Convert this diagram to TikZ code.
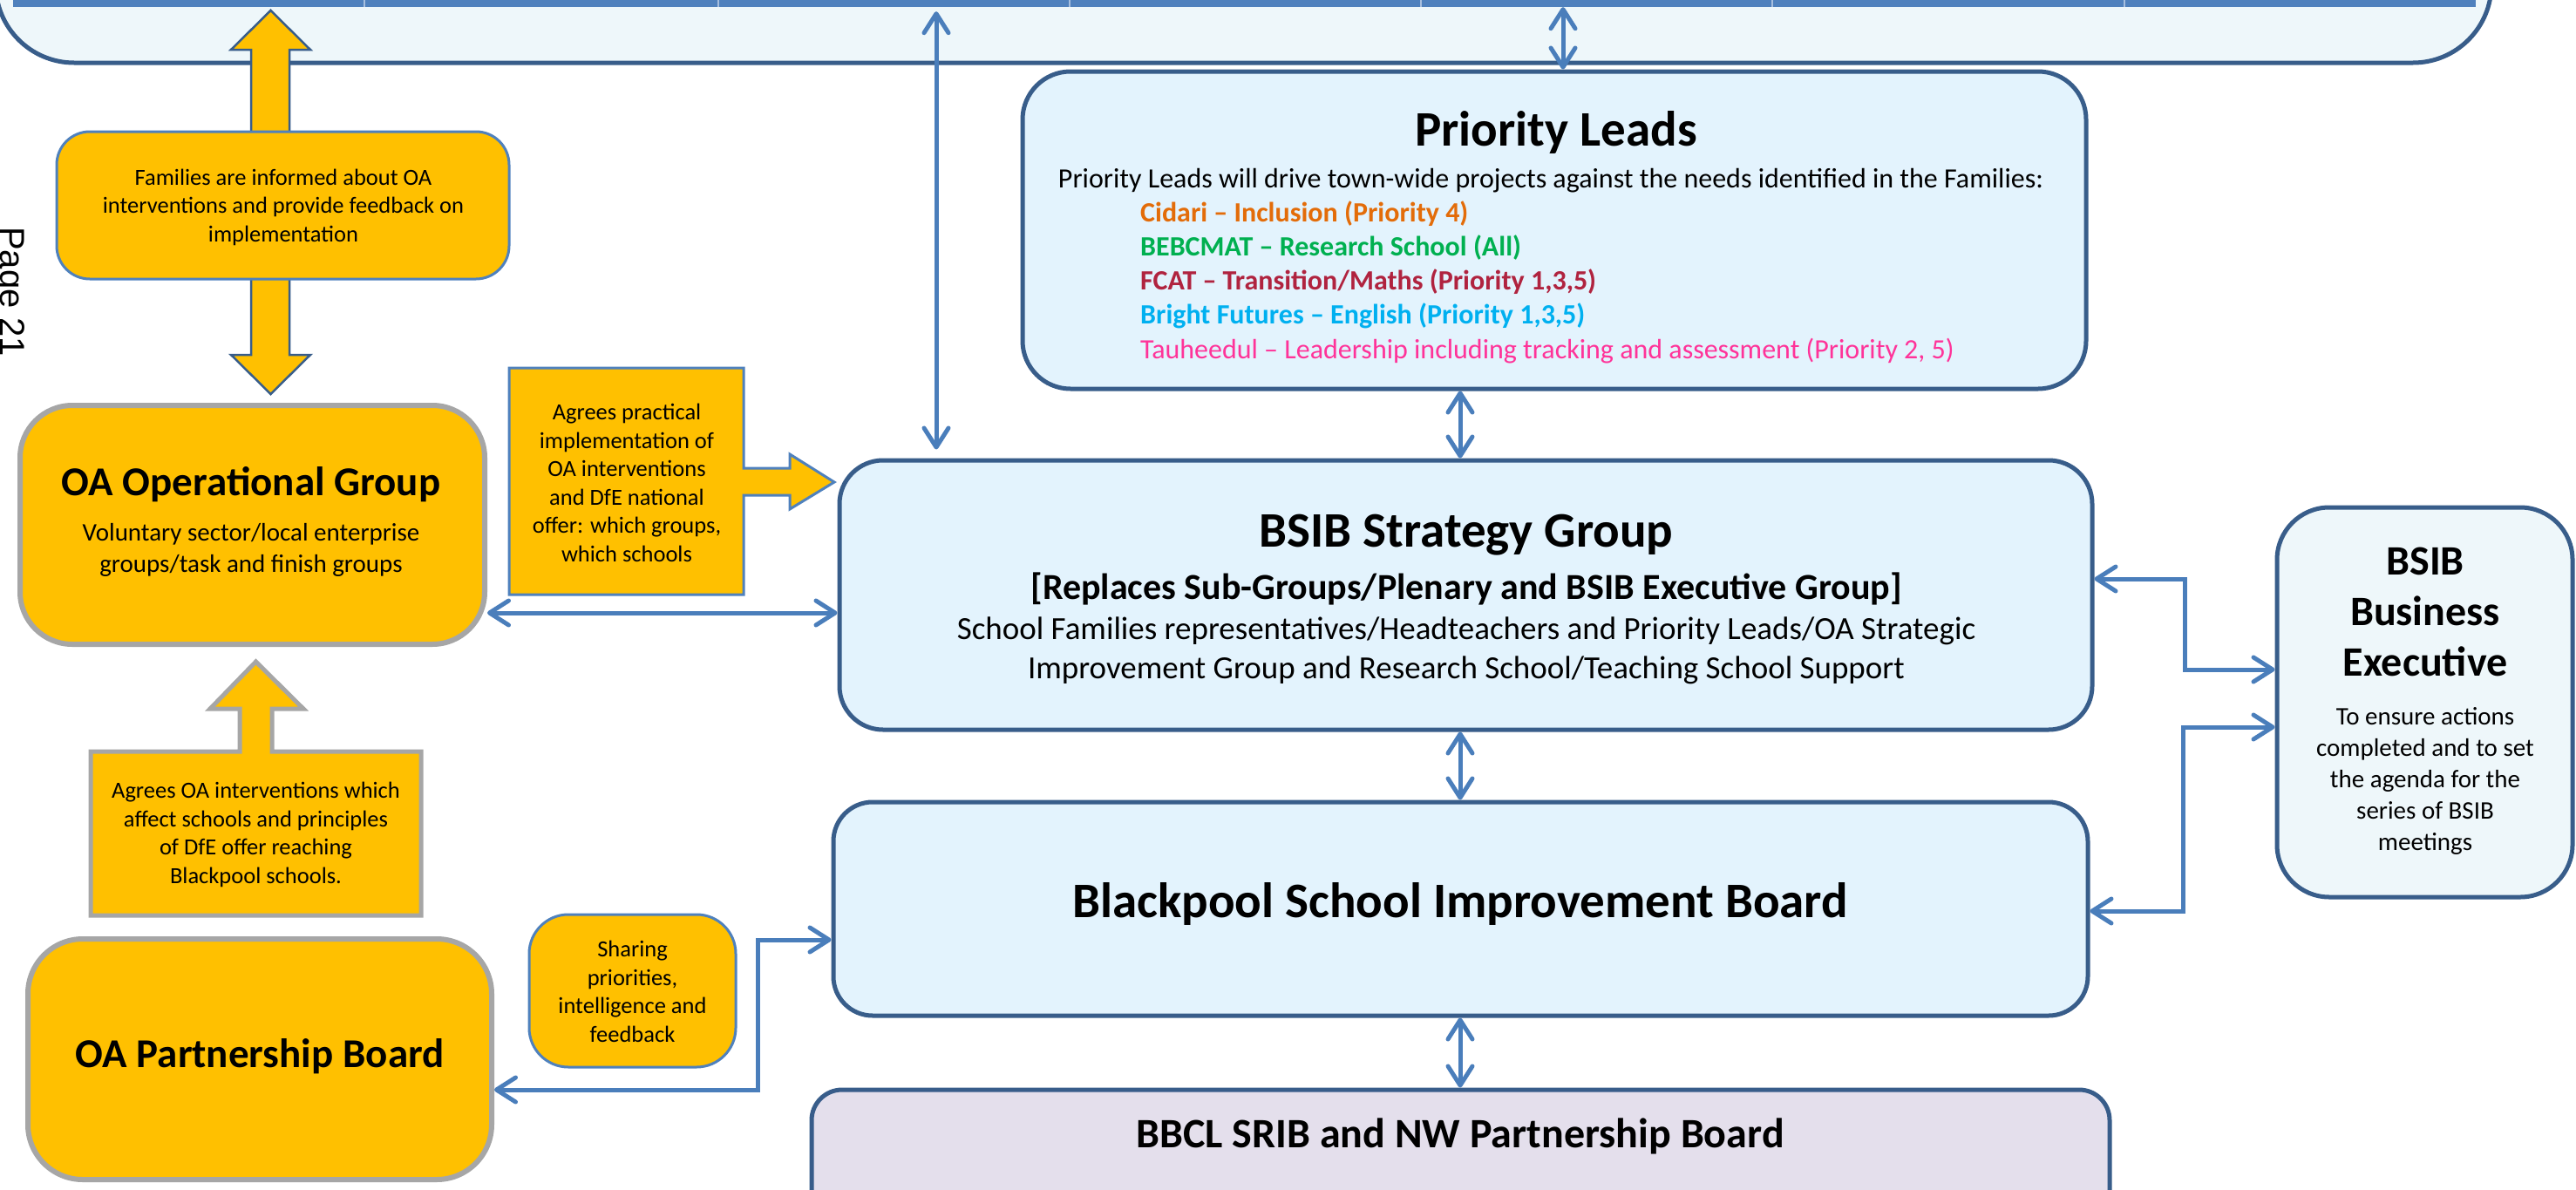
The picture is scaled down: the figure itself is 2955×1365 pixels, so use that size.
\documentclass[tikz,border=0pt]{standalone}
\usepackage{fontspec}
\setmainfont{Carlito}
\newfontfamily\pagefont{Liberation Sans}
\usetikzlibrary{arrows.meta}

\definecolor{ambr}{HTML}{FFC000}
\definecolor{greyb}{HTML}{A6A6A6}
\definecolor{midb}{HTML}{4F81BD}
\definecolor{darkb}{HTML}{385D8A}
\definecolor{connc}{HTML}{4A7EBB}
\definecolor{paleb}{HTML}{E3F3FD}
\definecolor{icyb}{HTML}{EEF7FA}
\definecolor{lilac}{HTML}{E4DFEC}
\definecolor{divline}{HTML}{A7BFDE}
\definecolor{cOrange}{HTML}{E36C09}
\definecolor{cGreen}{HTML}{00B050}
\definecolor{cRed}{HTML}{B0233F}
\definecolor{cCyan}{HTML}{00B0F0}
\definecolor{cPink}{HTML}{FF3399}

\newcommand\fsz[2]{\fontsize{#1}{#2}\selectfont}

\tikzset{
  bluebox/.style={draw=darkb, line width=5pt, fill=paleb, inner sep=0pt},
  amberbox/.style={draw=greyb, line width=6pt, fill=ambr, inner sep=0pt},
  notebox/.style={draw=midb, line width=3pt, fill=ambr, inner sep=0pt},
  txt/.style={inner sep=0pt, align=center, text=black},
  small/.style={font=\fsz{26.5}{32.5}},
  conn/.style={draw=connc, line width=5pt, <->,
    >={Straight Barb[length=22pt,width=28pt,round]}},
}

\begin{document}
\begin{tikzpicture}[x=1pt,y=-1pt]
\useasboundingbox (0,0) rectangle (2955,1365);
\clip (0,0) rectangle (2955,1365);
\fill[white] (0,0) rectangle (2955,1365);

% band of the school families table, partly above the page
\node[bluebox, fill=icyb, rounded corners=90pt, minimum width=2863pt, minimum height=272pt]
  (topbox) at (1426.5,-64) {};
\node[fill=midb, inner sep=0pt, minimum width=2825pt, minimum height=18pt]
  (band) at (1427.5,-1) {};
\foreach \x in {418,824,1227,1630,2033,2437}
  \draw[divline, line width=1.5pt] (\x,-10) -- (\x,8);

% page number in the margin
\node[rotate=-90, anchor=base west, inner sep=0pt, font=\pagefont\fsz{40}{48}]
  (pg) at (1,260) {Page 21};

% two-way block arrow between the families and the operational group
\draw[draw=darkb, line width=2.5pt, fill=ambr]
  (310.5,12) -- (356,57) -- (332,57) -- (332,407) -- (356,407) -- (310.5,452)
  -- (265,407) -- (288,407) -- (288,57) -- (265,57) -- cycle;

\node[notebox, rounded corners=38pt, minimum width=519pt, minimum height=169pt]
  (fam) at (324.5,235.5) {};
\node[txt, small] (famtxt) at (325,237.5)
  {Families are informed about OA\\interventions and provide feedback on\\implementation};

% OA operational group
\node[amberbox, rounded corners=60pt, minimum width=533pt, minimum height=274pt]
  (opg) at (289.5,602) {};
\node[txt, font=\fsz{47}{57}\bfseries] (opgtitle) at (288,556) {OA Operational Group};
\node[txt, font=\fsz{29}{36}] (opgtxt) at (288,631)
  {Voluntary sector/local enterprise\\groups/task and finish groups};

% note with arrow into the strategy group
\draw[draw=midb, line width=3pt, fill=ambr]
  (584,422) -- (853,422) -- (853,537) -- (906,537) -- (906,521) -- (957,553)
  -- (906,584) -- (906,568) -- (853,568) -- (853,682) -- (584,682) -- cycle;
\node[txt, small] (agp) at (719,554)
  {Agrees practical\\implementation of\\OA interventions\\and DfE national\\offer: which groups,\\which schools};

% note with arrow up into the operational group
\draw[draw=greyb, line width=5pt, fill=ambr]
  (104,862) -- (275,862) -- (275,813) -- (241,813) -- (293.5,759) -- (348,813)
  -- (312,813) -- (312,862) -- (483,862) -- (483,1050) -- (104,1050) -- cycle;
\node[txt, small] (aoa) at (293.5,957.5)
  {Agrees OA interventions which\\affect schools and principles\\of DfE offer reaching\\Blackpool schools.};

% OA partnership board
\node[amberbox, rounded corners=63pt, minimum width=532pt, minimum height=276pt]
  (opb) at (298,1215) {};
\node[txt, font=\fsz{47}{57}\bfseries] (opbtitle) at (298,1212) {OA Partnership Board};

% sharing note
\node[notebox, rounded corners=45pt, minimum width=237pt, minimum height=175pt]
  (shr) at (725.5,1136.5) {};
\node[txt, small] (shrtxt) at (725.5,1137.5)
  {Sharing\\priorities,\\intelligence and\\feedback};

% priority leads
\node[bluebox, rounded corners=55pt, minimum width=1220pt, minimum height=364pt]
  (prl) at (1783,264) {};
\node[txt, font=\fsz{57}{69}\bfseries] (prltitle) at (1785,152) {Priority Leads};
\node[txt, font=\fsz{32}{39}] (prlintro) at (1779,207)
  {Priority Leads will drive town-wide projects against the needs identified in the Families:};
\node[inner sep=0pt, align=left, anchor=west, font=\fsz{32}{39.3}] (prllist) at (1308,323.5)
  {{\bfseries\color{cOrange}Cidari – Inclusion (Priority 4)}\\
   {\bfseries\color{cGreen}BEBCMAT – Research School (All)}\\
   {\bfseries\color{cRed}FCAT – Transition/Maths (Priority 1,3,5)}\\
   {\bfseries\color{cCyan}Bright Futures – English (Priority 1,3,5)}\\
   {\color{cPink}Tauheedul – Leadership including tracking and assessment (Priority 2, 5)}};

% BSIB strategy group
\node[bluebox, rounded corners=50pt, minimum width=1437pt, minimum height=309pt]
  (bsg) at (1681.5,682.5) {};
\node[txt, font=\fsz{57}{69}\bfseries] (bsgtitle) at (1682,614) {BSIB Strategy Group};
\node[txt, font=\fsz{42}{51}\bfseries] (bsgsub) at (1682,675)
  {[Replaces Sub-Groups/Plenary and BSIB Executive Group]};
\node[txt, font=\fsz{37}{45}] (bsgtxt) at (1682,746)
  {School Families representatives/Headteachers and Priority Leads/OA Strategic\\Improvement Group and Research School/Teaching School Support};

% Blackpool School Improvement Board
\node[bluebox, rounded corners=45pt, minimum width=1439pt, minimum height=245pt]
  (sib) at (1675.5,1042.5) {};
\node[txt, font=\fsz{57}{69}\bfseries] (sibtitle) at (1675,1037) {Blackpool School Improvement Board};

% BBCL board at the foot of the page
\node[bluebox, fill=lilac, rounded corners=35pt, minimum width=1489pt, minimum height=170pt]
  (bbc) at (1675.5,1335) {};
\node[txt, font=\fsz{48}{58}\bfseries] (bbctitle) at (1675,1303) {BBCL SRIB and NW Partnership Board};

% BSIB business executive
\node[bluebox, fill=icyb, rounded corners=60pt, minimum width=339pt, minimum height=447pt]
  (bbe) at (2781.5,805.5) {};
\node[txt, font=\fsz{48}{58}\bfseries] (bbetitle) at (2782,701.5) {BSIB\\Business\\Executive};
\node[txt, font=\fsz{29}{36}] (bbetxt) at (2782,895.5)
  {To ensure actions\\completed and to set\\the agenda for the\\series of BSIB\\meetings};

% connectors
\coordinate (xa) at (1793,0);
\coordinate (xb) at (1074,0);
\coordinate (xc) at (1675,0);
\coordinate (yh) at (0,703);
\coordinate (e1) at (869,1078);
\coordinate (e2) at (869,1250);
\coordinate (f1) at (2506,664);
\coordinate (f2) at (2506,768);
\coordinate (g1) at (2504,1045);
\coordinate (g2) at (2504,834);

\draw[conn] (band.south -| xa) -- (prl.north -| xa);
\draw[conn, shorten <=5pt, shorten >=10pt] (band.south -| xb) -- (bsg.north -| xb);
\draw[conn] (prl.south -| xc) -- (bsg.north -| xc);
\draw[conn] (bsg.south -| xc) -- (sib.north -| xc);
\draw[conn] (sib.south -| xc) -- (bbc.north -| xc);
\draw[conn] (opg.east |- yh) -- (bsg.west |- yh);
\draw[conn] (sib.west |- e1) -- (e1) -- (e2) -- (opb.east |- e2);
\draw[conn] (bsg.east |- f1) -- (f1) -- (f2) -- (bbe.west |- f2);
\draw[conn] (sib.east |- g1) -- (g1) -- (g2) -- (bbe.west |- g2);
\end{tikzpicture}
\end{document}
